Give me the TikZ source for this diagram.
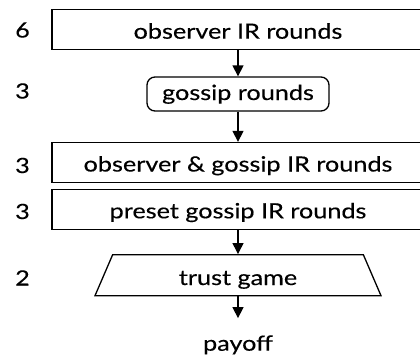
\documentclass[tikz,border=0pt]{standalone}
\usepackage{fontspec}
\setmainfont{Lato}[FakeStretch=1.2,FakeBold=0.3]
\usetikzlibrary{shapes.geometric,arrows.meta}
\begin{document}
\begin{tikzpicture}[x=1pt,y=-1pt,
  every node/.style={font=\fontsize{21}{25}\selectfont},
  arr/.style={line width=1.3pt,-{Triangle[length=11pt,width=11pt]}},
  box/.style={draw,line width=1.3pt,minimum width=372pt,minimum height=40pt,
    text height=18pt,text depth=0pt,inner sep=0pt},
  rbox/.style={draw,line width=1.3pt,rounded corners=8pt,minimum width=182pt,
    minimum height=34pt,text height=12pt,text depth=0pt,inner sep=0pt},
  tbox/.style={draw,line width=1.3pt,trapezium,trapezium stretches body,
    trapezium left angle=48,trapezium right angle=48,minimum width=286pt,
    minimum height=41pt,text height=19.6pt,text depth=0pt,inner sep=0pt},
  num/.style={anchor=base,inner sep=0pt},
]
\path[use as bounding box] (0,0) rectangle (420,359);
\clip (0,0) rectangle (420,359);
\node[box] (b1) at (238,29.7) {observer IR rounds};
\node[rbox] (b2) at (238,94) {gossip rounds};
\node[box] (b3) at (238,162.5) {observer \& gossip IR rounds};
\node[box] (b4) at (238,209.3) {preset gossip IR rounds};
\node[tbox] (b5) at (238,275.2) {trust game};
\node[num] (pay) at (238,350.7) {payoff};
\node[num] (n1) at (22.5,37.5) {6};
\node[num] (n2) at (22.5,98.5) {3};
\node[num] (n3) at (22.5,173) {3};
\node[num] (n4) at (22.5,219) {3};
\node[num] (n5) at (22.5,285.5) {2};
\draw[arr] (b1.south) -- (b2.north);
\draw[arr] (b2.south) -- (b3.north);
\draw[arr] (b4.south) -- (b5.north);
\draw[arr,shorten >=17pt] (b5.south) -- (pay.north);
\end{tikzpicture}
\end{document}
